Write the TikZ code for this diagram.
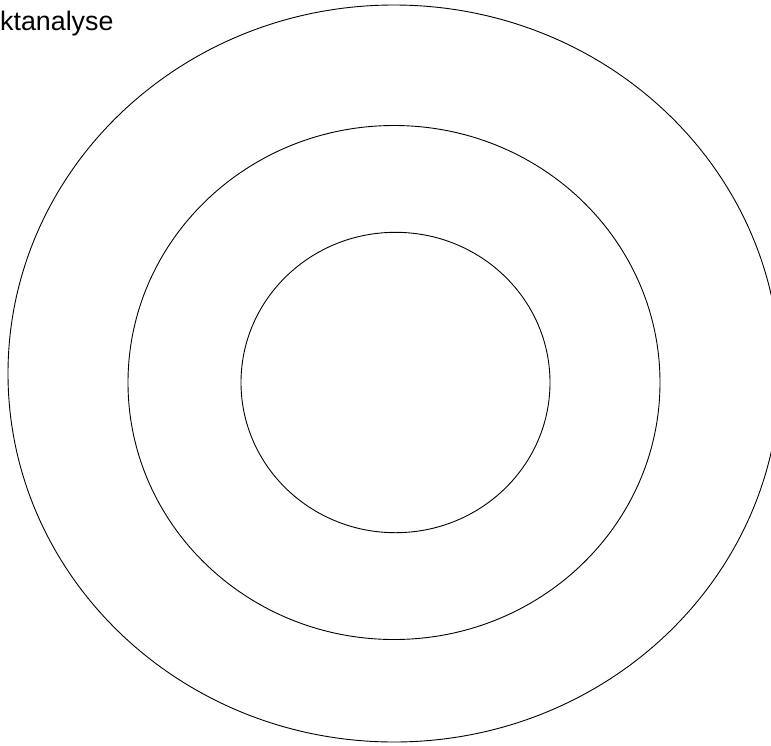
\documentclass[tikz,border=0pt]{standalone}
\usepackage{fontspec}
\setmainfont{Liberation Sans}
\begin{document}
\begin{tikzpicture}[x=1pt,y=-1pt,
  ring/.style={draw=black,line width=0.9pt},
  lbl/.style={inner sep=0pt,font=\fontsize{26.8}{32}\selectfont}]
\useasboundingbox (0,0) rectangle (771,745);
\begin{scope}
\clip (0,0) rectangle (771,745);
\draw[ring] (394,373.5) ellipse [x radius=386, y radius=368.5];
\draw[ring] (394,382.5) ellipse [x radius=266, y radius=257];
\draw[ring] (395.5,382.5) ellipse [x radius=154.5, y radius=150.2];
\end{scope}
\node[lbl,anchor=base west] (title) at (0,30) {ktanalyse};
\end{tikzpicture}
\end{document}
